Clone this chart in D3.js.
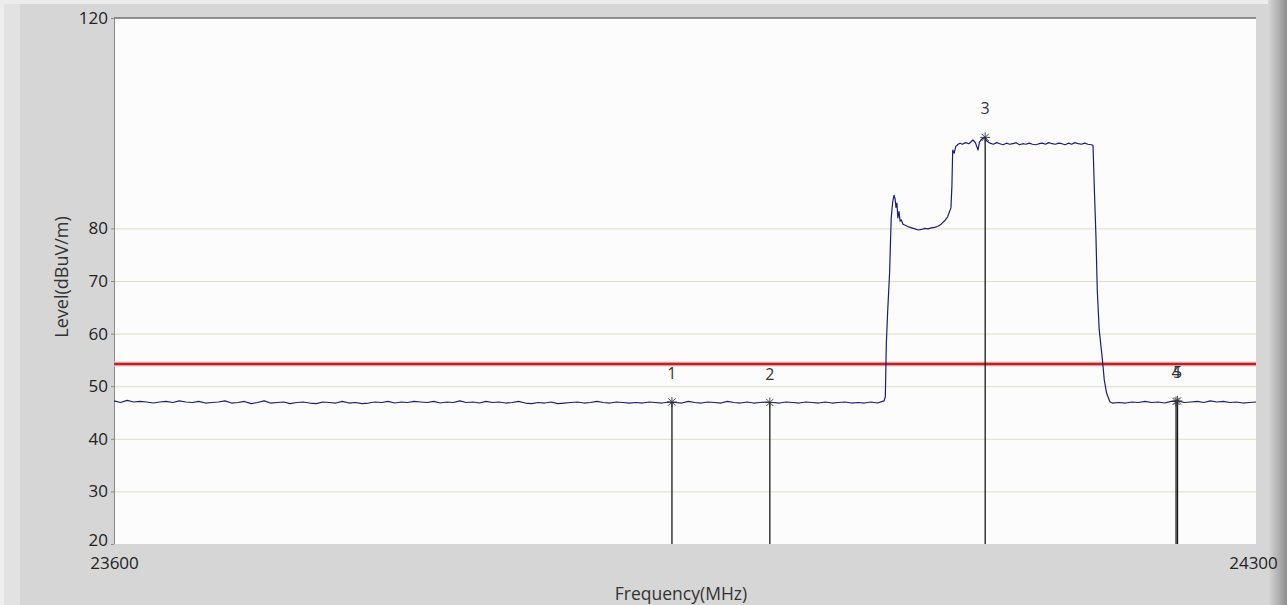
<!DOCTYPE html>
<html>
<head>
<meta charset="utf-8">
<script src="https://cdn.jsdelivr.net/npm/d3@7"></script>
<style>
  html, body { margin: 0; padding: 0; background: #d6d6d6; }
  svg { display: block; font-family: "Open Sans", "Noto Sans", sans-serif; }
</style>
</head>
<body>
<div id="chart"></div>
<script>
// axis ranges / ticks
var freqDomain = [23600, 24300];
var levelDomain = [20, 120];
var levelTicks = [20, 30, 40, 50, 60, 70, 80, 120];
var gridLevels = [30, 40, 50, 60, 70, 80];
var freqTicks = [23600, 24300];
var limitLevel = 54.2;

// sweep trace, [MHz, dBuV/m]
var traceLeftFloor = [
  [23600,47.2],[23604,46.9],[23608,47.3],[23612,47.0],[23616,47.1],[23620,47.0],[23624,46.8],[23628,47.0],
  [23632,47.1],[23636,46.9],[23640,47.2],[23644,47.0],[23648,46.9],[23652,47.1],[23656,46.8],[23660,46.9],
  [23664,47.0],[23668,47.2],[23672,46.8],[23676,46.9],[23680,47.1],[23684,46.7],[23688,46.9],[23692,47.2],
  [23696,46.8],[23700,46.9],[23704,47.0],[23708,46.7],[23712,46.9],[23716,47.0],[23720,46.8],[23724,46.7],
  [23728,47.0],[23732,46.9],[23736,46.8],[23740,47.1],[23744,46.8],[23748,46.9],[23752,46.7],[23756,46.8],
  [23760,47.0],[23764,46.9],[23768,47.1],[23772,46.8],[23776,47.0],[23780,46.9],[23784,47.1],[23788,47.0],
  [23792,46.9],[23796,47.1],[23800,46.8],[23804,47.0],[23808,46.9],[23812,47.2],[23816,46.9],[23820,47.0],
  [23824,46.8],[23828,47.1],[23832,46.9],[23836,47.0],[23840,46.8],[23844,46.9],[23848,47.1],[23852,46.8],
  [23856,46.7],[23860,46.9],[23864,46.8],[23868,47.0],[23872,46.7],[23876,46.8],[23880,46.9],[23884,47.0],
  [23888,46.8],[23892,46.9],[23896,47.1],[23900,46.9],[23904,46.8],[23908,47.0],[23912,46.9],[23916,46.8],
  [23920,46.9],[23924,46.8],[23928,47.0],[23932,46.9],[23936,46.8],[23940,47.0],[23944,46.9],[23948,46.8],
  [23952,47.1],[23956,46.9],[23960,46.8],[23964,47.0],[23968,46.9],[23972,46.8],[23976,47.1],[23980,46.9],
  [23984,46.8],[23988,47.0],[23992,46.8],[23996,46.9],[24000,47.0],[24004,46.9],[24008,46.8],[24012,47.0],
  [24016,46.9],[24020,46.8],[24024,47.0],[24028,46.9],[24032,46.8],[24036,47.0],[24040,46.8],[24044,46.9],
  [24048,47.0],[24052,46.8],[24056,46.9],[24060,46.8],[24064,47.0],[24068,46.8],[24072,47.2]
];
var traceRise = [
  [24072.8,48.0],[24073.4,58.0],[24074.2,64.0],[24075.4,71.5],[24076.4,82.0],[24077.3,85.0],[24078.1,86.3],
  [24078.8,85.6],[24079.3,84.0],[24079.9,84.8],[24080.5,82.0],[24081.2,83.2],[24081.8,81.4],[24082.6,81.6],
  [24083.6,80.8],[24085,80.6],[24087,80.3],[24089,80.1],[24091,79.9],[24093,79.7],[24095,79.8],[24097,80.0],
  [24099,79.9],[24101,80.1],[24103,80.2],[24105,80.4],[24107,80.8],[24109,81.4],[24111,82.2],[24113,83.9],
  [24113.6,88.0],[24114.1,94.9],[24115,94.3],[24116,95.6],[24117.4,96.0]
];
var traceTop = [
  [24118.6,96.2],[24120,96.0],[24122,96.3],[24124,96.1],[24126.5,96.8],[24128,96.3],[24129.6,94.9],
  [24130.5,96.4],[24132,97.0],[24133.9,97.3],[24135,96.6],[24137,96.2],[24139,96.0],[24141,96.3],[24143,96.1],
  [24145,95.9],[24147,96.2],[24149,96.0],[24151,96.1],[24153,96.3],[24155,95.9],[24157,96.1],[24159,96.0],
  [24161,96.2],[24163,96.0],[24165,95.9],[24167,96.1],[24169,96.2],[24171,96.0],[24173,96.3],[24175,96.1],
  [24177,96.0],[24179,96.2],[24181,96.1],[24183,95.9],[24185,96.2],[24187,96.0],[24189,96.3],[24191,96.1],
  [24193,96.0],[24195,96.2],[24197,96.0],[24199,95.9],[24200.1,95.8]
];
var traceFall = [
  [24201.0,86.7],[24201.9,78.4],[24202.7,68.3],[24203.9,60.7],[24205.7,55.5],[24207.0,51.2],
  [24208.4,48.7],[24210.5,47.0],[24212,46.8]
];
var traceRightFloor = [
  [24216,46.9],[24220,46.8],[24224,47.0],[24228,46.9],[24232,47.1],[24236,46.9],[24240,47.0],[24244,46.8],
  [24248,47.1],[24252,47.2],[24256,46.9],[24260,47.0],[24264,47.1],[24268,46.9],[24272,47.2],[24276,47.0],
  [24280,47.1],[24284,46.9],[24288,47.0],[24292,46.8],[24296,46.9],[24300,47.0]
];

// markers
var markerIds = ["1", "2", "3", "4", "5"];
var markerFreqs = [23942, 24002, 24134, 24251, 24251.9];
var markerLevels = [47.0, 46.9, 97.3, 47.1, 47.2];

var width = 1287, height = 605;
var plot = {left: 114, right: 1256, top: 18, bottom: 544};

var svg = d3.select("#chart").append("svg")
    .attr("width", width)
    .attr("height", height);

// window chrome
var defs = svg.append("defs");
var shade = defs.append("linearGradient").attr("id", "shade").attr("x1", 0).attr("x2", 1);
shade.append("stop").attr("offset", "0%").attr("stop-color", "#d8d8d8");
shade.append("stop").attr("offset", "100%").attr("stop-color", "#8f8f8f");

svg.append("rect").attr("width", width).attr("height", height).attr("fill", "#d6d6d6");
svg.append("rect").attr("x", 0).attr("y", 0).attr("width", 20).attr("height", height).attr("fill", "#e2e2e2");
svg.append("rect").attr("x", 0).attr("y", 0).attr("width", 4).attr("height", height).attr("fill", "#eeeeee");
svg.append("rect").attr("x", 0).attr("y", 0).attr("width", 1268).attr("height", 4).attr("fill", "#ececec");
svg.append("rect").attr("x", 1268).attr("y", 0).attr("width", 19).attr("height", height).attr("fill", "url(#shade)");

var x = d3.scaleLinear().domain(freqDomain).range([plot.left, plot.right]);
var y = d3.scaleLinear().domain(levelDomain).range([plot.bottom, plot.top]);

svg.append("rect")
    .attr("x", plot.left).attr("y", plot.top)
    .attr("width", plot.right - plot.left).attr("height", plot.bottom - plot.top)
    .attr("fill", "#fcfcfc");

// grid
svg.append("g").selectAll("line")
    .data(gridLevels)
    .enter().append("line")
    .attr("x1", plot.left).attr("x2", plot.right)
    .attr("y1", function(d) { return y(d) + 0.5; })
    .attr("y2", function(d) { return y(d) + 0.5; })
    .attr("stroke", "#e0dcc4")
    .attr("stroke-width", 1);

// frame
svg.append("line")
    .attr("x1", plot.left).attr("x2", plot.right)
    .attr("y1", plot.top).attr("y2", plot.top)
    .attr("stroke", "#707070").attr("stroke-width", 1.5);
svg.append("line")
    .attr("x1", plot.left + 0.5).attr("x2", plot.left + 0.5)
    .attr("y1", plot.top).attr("y2", plot.bottom)
    .attr("stroke", "#8a8a8a").attr("stroke-width", 1);

// limit line
svg.append("line")
    .attr("x1", plot.left).attr("x2", plot.right)
    .attr("y1", y(limitLevel)).attr("y2", y(limitLevel))
    .attr("stroke", "#f0c4c4").attr("stroke-width", 5);
svg.append("line")
    .attr("x1", plot.left).attr("x2", plot.right)
    .attr("y1", y(limitLevel)).attr("y2", y(limitLevel))
    .attr("stroke", "#b8262a").attr("stroke-width", 2.5);

// marker stems
svg.append("g").selectAll("line")
    .data(markerIds)
    .enter().append("line")
    .attr("x1", function(d, i) { return x(markerFreqs[i]); })
    .attr("x2", function(d, i) { return x(markerFreqs[i]); })
    .attr("y1", function(d, i) { return y(markerLevels[i]); })
    .attr("y2", plot.bottom)
    .attr("stroke", "#1a1a1a")
    .attr("stroke-width", 1.3);

// trace
var trace = traceLeftFloor.concat(traceRise, traceTop, traceFall, traceRightFloor);
var line = d3.line()
    .x(function(d) { return x(d[0]); })
    .y(function(d) { return y(d[1]); });
svg.append("path")
    .datum(trace)
    .attr("d", line)
    .attr("fill", "none")
    .attr("stroke", "#1c1c7a")
    .attr("stroke-width", 1.2)
    .attr("stroke-linejoin", "round");

// marker stars + labels
var mk = svg.append("g").selectAll("g")
    .data(markerIds)
    .enter().append("g")
    .attr("transform", function(d, i) { return "translate(" + x(markerFreqs[i]) + "," + y(markerLevels[i]) + ")"; });
mk.append("path")
    .attr("d", "M-5,0H5M0,-5V5M-3.6,-3.6L3.6,3.6M-3.6,3.6L3.6,-3.6")
    .attr("stroke", "#333")
    .attr("stroke-width", 0.9);
mk.append("text")
    .attr("y", -23)
    .attr("text-anchor", "middle")
    .attr("font-size", 16)
    .attr("fill", "#333")
    .text(function(d) { return d; });

// axes
var yAxis = svg.append("g")
    .attr("transform", "translate(" + plot.left + ",0)")
    .call(d3.axisLeft(y).tickValues(levelTicks).tickSize(3).tickPadding(3));
var xAxis = svg.append("g")
    .attr("transform", "translate(0," + plot.bottom + ")")
    .call(d3.axisBottom(x).tickValues(freqTicks).tickSize(0).tickPadding(13).tickFormat(d3.format("d")));
svg.selectAll(".domain").remove();
svg.selectAll(".tick line").attr("stroke", "#8a8a8a");
svg.selectAll(".tick text").attr("font-size", 17).attr("fill", "#222").attr("font-family", "Open Sans, sans-serif");
yAxis.selectAll(".tick text").attr("dy", function(d) { return d === 20 ? "0.1em" : "0.32em"; });
xAxis.selectAll(".tick text").attr("dx", function(d) { return d === 24300 ? -3 : 0; });

svg.append("text")
    .attr("transform", "translate(62,277) rotate(-90)")
    .attr("text-anchor", "middle")
    .attr("dy", "0.35em")
    .attr("font-size", 18)
    .attr("fill", "#333")
    .text("Level(dBuV/m)");
svg.append("text")
    .attr("x", 681).attr("y", 594)
    .attr("text-anchor", "middle")
    .attr("dy", "0.35em")
    .attr("font-size", 17.5)
    .attr("fill", "#333")
    .text("Frequency(MHz)");
</script>
</body>
</html>
